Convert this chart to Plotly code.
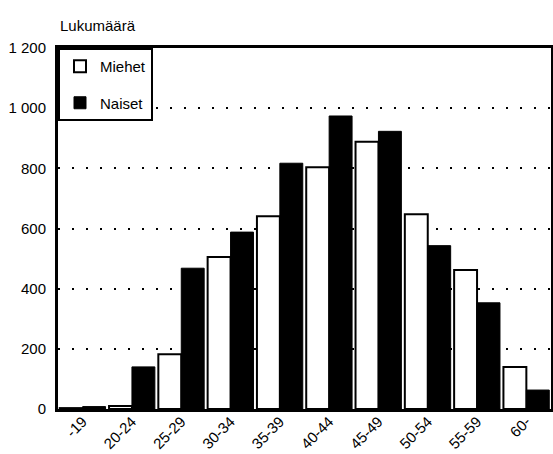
import plotly.graph_objects as go

categories = ["-19", "20-24", "25-29", "30-34", "35-39", "40-44", "45-49", "50-54", "55-59", "60-"]
miehet = [3, 10, 182, 505, 641, 804, 888, 647, 462, 140]
naiset = [8, 140, 468, 588, 817, 974, 923, 543, 353, 63]
y_ticks = [0, 200, 400, 600, 800, 1000, 1200]
y_labels = ["0", "200", "400", "600", "800", "1 000", "1 200"]

fig = go.Figure()
fig.add_trace(go.Bar(name="Miehet", x=categories, y=miehet, legendgroup="m",
                     marker=dict(color="white", line=dict(color="black", width=2))))
fig.add_trace(go.Bar(name="Naiset", x=categories, y=naiset, legendgroup="n",
                     marker=dict(color="black", line=dict(color="black", width=1))))

font = dict(family="Liberation Sans, Arial, sans-serif", size=15, color="black")
fig.update_layout(
    width=553, height=454,
    margin=dict(l=58, r=2, t=48, b=45),
    paper_bgcolor="white", plot_bgcolor="white",
    barmode="group", bargap=0.07, bargroupgap=0.0,
    font=font,
    showlegend=True,
    legend=dict(x=0, y=1, xanchor="left", yanchor="top",
                bgcolor="white", bordercolor="black", borderwidth=2,
                font=dict(size=15), itemwidth=30,
                tracegroupgap=14),
    annotations=[dict(text="Lukumäärä", x=0, y=1, xref="paper", yref="paper",
                      xanchor="left", yanchor="bottom", yshift=12, showarrow=False,
                      font=dict(size=15))],
)
fig.update_xaxes(showline=True, linecolor="black", linewidth=3, mirror=True,
                 tickangle=-45, ticks="", showgrid=False, automargin=False,
                 tickfont=dict(size=15), ticklabelstandoff=-5)
fig.update_yaxes(range=[0, 1200], tickvals=y_ticks, ticktext=y_labels,
                 showline=True, linecolor="black", linewidth=3, mirror=True,
                 showgrid=True, gridcolor="black", gridwidth=2, griddash="2px,12px",
                 zeroline=False, ticks="", ticklabelstandoff=6, automargin=False,
                 tickfont=dict(size=15))

fig.write_html("out.html", config={"displayModeBar": False},
               post_script="document.body.style.margin='0';")
